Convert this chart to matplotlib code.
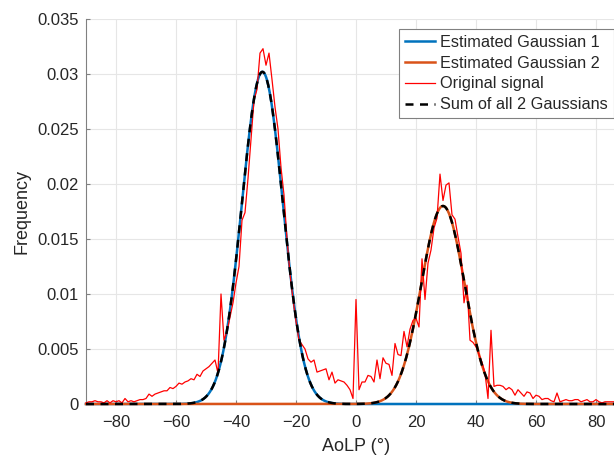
import numpy as np
import matplotlib
matplotlib.use("Agg")
import matplotlib.pyplot as plt

# ---- data ----
angles = list(range(-90, 91))
signal = [
    # -90 .. -47
    0.0001, 0.0002, 0.0002, 0.0003, 0.0002, 0.0002, 0.0001, 0.0003, 0.0001, 0.0003,
    0.0002, 0.0003, 0.0001, 0.0005, 0.0002, 0.0003, 0.0002, 0.0003, 0.0004, 0.0004,
    0.0005, 0.0009, 0.0007, 0.0009, 0.0010, 0.0011, 0.0012, 0.0012, 0.0015, 0.0014,
    0.0016, 0.0019, 0.0018, 0.0020, 0.0021, 0.0023, 0.0022, 0.0027, 0.0025, 0.0030,
    0.0032, 0.0034, 0.0037, 0.0040,
    # -46 .. -1
    0.0028, 0.0100, 0.0058, 0.0066, 0.0079, 0.0092, 0.0110, 0.0125, 0.0167, 0.0174,
    0.0205, 0.0240, 0.0276, 0.0286, 0.0319, 0.0323, 0.0308, 0.0319, 0.0295, 0.0270,
    0.0250, 0.0215, 0.0190, 0.0150, 0.0118, 0.0095, 0.0075, 0.0058, 0.0054, 0.0050,
    0.0041, 0.0038, 0.0040, 0.0029, 0.0030, 0.0031, 0.0032, 0.0022, 0.0029, 0.0019,
    0.0022, 0.0021, 0.0020, 0.0017, 0.0013, 0.0005,
    # 0 .. 49
    0.0095, 0.0013, 0.0020, 0.0020, 0.0026, 0.0025, 0.0020, 0.0040, 0.0023, 0.0042,
    0.0037, 0.0036, 0.0026, 0.0055, 0.0045, 0.0044, 0.0066, 0.0052, 0.0068, 0.0076,
    0.0078, 0.0070, 0.0132, 0.0095, 0.0128, 0.0140, 0.0160, 0.0169, 0.0209, 0.0185,
    0.0199, 0.0201, 0.0172, 0.0168, 0.0152, 0.0137, 0.0092, 0.0108, 0.0058, 0.0056,
    0.0052, 0.0045, 0.0038, 0.0028, 0.0005, 0.0067, 0.0016, 0.0017, 0.0017, 0.0016,
    # 50 .. 90
    0.0013, 0.0015, 0.0013, 0.0008, 0.0013, 0.0010, 0.0007, 0.0011, 0.0010, 0.0005,
    0.0008, 0.0007, 0.0004, 0.0005, 0.0005, 0.0003, 0.0002, 0.0010, 0.0002, 0.0003,
    0.0004, 0.0003, 0.0003, 0.0004, 0.0004, 0.0002, 0.0003, 0.0004, 0.0002, 0.0002,
    0.0004, 0.0002, 0.0001, 0.0002, 0.0002, 0.0002, 0.0002, 0.0001, 0.0002, 0.0002,
    0.0001,
]

# fitted Gaussian parameters (amplitude, mean, sigma)
g_amp = [0.0302, 0.0180]
g_mean = [-31.2, 29.0]
g_sigma = [6.8, 7.2]

labels = ["Estimated Gaussian 1", "Estimated Gaussian 2", "Original signal",
          "Sum of all 2 Gaussians"]
xticks = [-80, -60, -40, -20, 0, 20, 40, 60, 80]
yticks = [0, 0.005, 0.01, 0.015, 0.02, 0.025, 0.03, 0.035]
ytick_labels = ["0", "0.005", "0.01", "0.015", "0.02", "0.025", "0.03", "0.035"]

# ---- plot ----
plt.rcParams['font.family'] = ['Liberation Sans', 'DejaVu Sans']
txt = '#262626'
fig = plt.figure(figsize=(6.14, 4.55), dpi=100)
ax = fig.add_axes([86 / 614, 51 / 455, 540 / 614, 385 / 455])

xg = np.linspace(-90, 90, 721)
gs = [a * np.exp(-(xg - m) ** 2 / (2 * s ** 2)) for a, m, s in zip(g_amp, g_mean, g_sigma)]

ax.plot(xg, gs[0], color='#0072BD', lw=1.8, label=labels[0], zorder=3, clip_on=False)
ax.plot(xg, gs[1], color='#D95319', lw=1.8, label=labels[1], zorder=3, clip_on=False)
ax.plot(angles, signal, color='#FF0000', lw=0.9, label=labels[2], zorder=4, clip_on=False)
ax.plot(xg, gs[0] + gs[1], color='black', lw=1.8, ls=(0, (3.2, 2.6)),
        label=labels[3], zorder=5, clip_on=False)

ax.set_xlim(-90, 90)
ax.set_ylim(0, 0.035)
ax.set_xticks(xticks)
ax.set_xticklabels([("\u2212" + str(-t)) if t < 0 else str(t) for t in xticks])
ax.set_yticks(yticks)
ax.set_yticklabels(ytick_labels)
ax.grid(True, color='#E6E6E6', lw=0.8)
ax.set_axisbelow(True)
for s in ['top', 'right']:
    ax.spines[s].set_visible(False)
ax.spines['left'].set_color('#808080')
ax.spines['bottom'].set_color('#808080')
ax.tick_params(direction='in', length=3, color='#808080', labelsize=12,
               labelcolor=txt)
ax.tick_params(axis='y', pad=5)
ax.tick_params(axis='x', pad=8)
ax.set_xlabel("AoLP (\u00b0)", fontsize=13, color=txt, labelpad=6)
ax.set_ylabel("Frequency", fontsize=13, color=txt, labelpad=5)

leg = ax.legend(loc='upper right', bbox_to_anchor=(613.5 / 614, (455 - 29) / 455),
                bbox_transform=fig.transFigure, fontsize=11.7, frameon=True,
                fancybox=False, framealpha=1, edgecolor='#808080',
                borderpad=0.35, handlelength=1.85, handletextpad=0.3,
                labelspacing=0.36, borderaxespad=0)
leg.get_frame().set_linewidth(0.8)
for t in leg.get_texts():
    t.set_color(txt)

fig.savefig("out.png", dpi=100)
